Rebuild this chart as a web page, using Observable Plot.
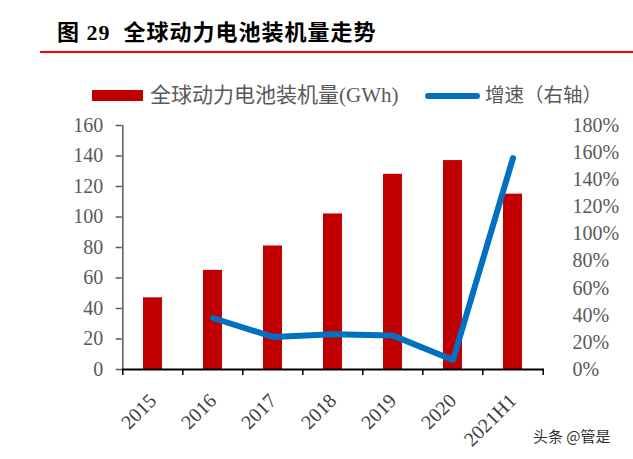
<!DOCTYPE html>
<html><head><meta charset="utf-8">
<script src="https://cdn.jsdelivr.net/npm/d3@7"></script>
<script src="https://cdn.jsdelivr.net/npm/@observablehq/plot@0.6"></script>
<style>
body{margin:0;background:#fff;}
#wrap{position:relative;width:633px;height:459px;overflow:hidden;background:#fff;}
.abs{position:absolute;white-space:nowrap;}
.leg{font-family:'Liberation Serif','Noto Sans CJK SC',serif;font-size:21px;line-height:21px;color:#595959;}
</style></head><body>
<div id="wrap">
  <div class="abs" style="left:57px;top:22px;font:bold 22px 'Liberation Serif','Noto Sans CJK SC',serif;letter-spacing:1px;color:#000;line-height:22px">图 29&nbsp; 全球动力电池装机量走势</div>
  <div class="abs" style="left:40px;top:51px;width:593px;height:2px;background:#FF0000"></div>
  <div class="abs" style="left:92px;top:90px;width:51px;height:11px;background:#C00000"></div>
  <div class="abs leg" style="left:150px;top:85px">全球动力电池装机量(GWh)</div>
  <div class="abs" style="left:425px;top:92.5px;width:55px;height:6px;border-radius:3px;background:#0070C0"></div>
  <div class="abs leg" style="left:485px;top:85px;font-size:19.5px">增速（右轴）</div>
  <div id="chart" class="abs" style="left:0;top:110px"></div>
  <div class="abs" style="left:533px;top:428px;font:15px 'Noto Sans CJK SC',sans-serif;color:#333;line-height:15px">头条 @管是</div>
</div>
<script>
const categories = ["2015", "2016", "2017", "2018", "2019", "2020", "2021H1"];
const installed = [47, 65, 81, 102, 128, 137, 115];      // GWh, left axis
const growth = [null, 38, 24, 26, 25, 7, 156];            // %, right axis
const leftTicks = [0, 20, 40, 60, 80, 100, 120, 140, 160];
const rightTicks = [0, 20, 40, 60, 80, 100, 120, 140, 160, 180];
const LEFT_MAX = 160, RIGHT_MAX = 180;
const k = LEFT_MAX / RIGHT_MAX;

const bars = categories.map((c, i) => ({c, v: installed[i]}));
const lineData = categories.map((c, i) => ({c, g: growth[i]})).filter(d => d.g != null);

const W = 633, H = 349, mL = 121.7, mR = 89, mT = 15, mB = 90;
const step = (W - mL - mR) / categories.length;

const chart = Plot.plot({
  width: W, height: H,
  marginLeft: mL, marginRight: mR, marginTop: mT, marginBottom: mB,
  style: {fontFamily: "'Liberation Serif', serif", fontSize: "20px", color: "#595959", background: "white", overflow: "visible"},
  x: {domain: categories, paddingInner: 0.68, paddingOuter: 0.34, label: null},
  y: {domain: [0, LEFT_MAX], label: null},
  marks: [
    Plot.barY(bars, {x: "c", y: "v", fill: "#C00000"}),
    Plot.ruleX([categories[0]], {x: d => d, y1: 0, y2: LEFT_MAX, dx: -step / 2, stroke: "#595959", strokeWidth: 1.5}),
    Plot.ruleY([0], {stroke: "#000", strokeWidth: 2}),
    Plot.ruleX(categories, {x: d => d, y1: 0, y2: 0, insetBottom: -6, dx: -step / 2, stroke: "#000", strokeWidth: 1.5}),
    Plot.ruleX([categories[categories.length - 1]], {x: d => d, y1: 0, y2: 0, insetBottom: -6, dx: step / 2, stroke: "#000", strokeWidth: 1.5}),
    Plot.line(lineData, {x: "c", y: d => d.g * k, stroke: "#0070C0", strokeWidth: 6, strokeLinecap: "round", strokeLinejoin: "round"}),
    Plot.axisY(leftTicks, {anchor: "left", tickSize: 6, tickPadding: 13, stroke: "#595959", strokeWidth: 1.5, fill: "#595959", fontSize: 20}),
    Plot.axisY(rightTicks.map(v => v * k), {anchor: "right", tickSize: 0, tickPadding: 28, textAnchor: "start", tickFormat: d => Math.round(d / k) + "%", fill: "#595959", fontSize: 20}),
    Plot.axisX({tickSize: 0, tickRotate: -45, tickPadding: 28, fill: "#404040", fontSize: 20})
  ]
});
document.getElementById("chart").appendChild(chart);
</script>
</body></html>
